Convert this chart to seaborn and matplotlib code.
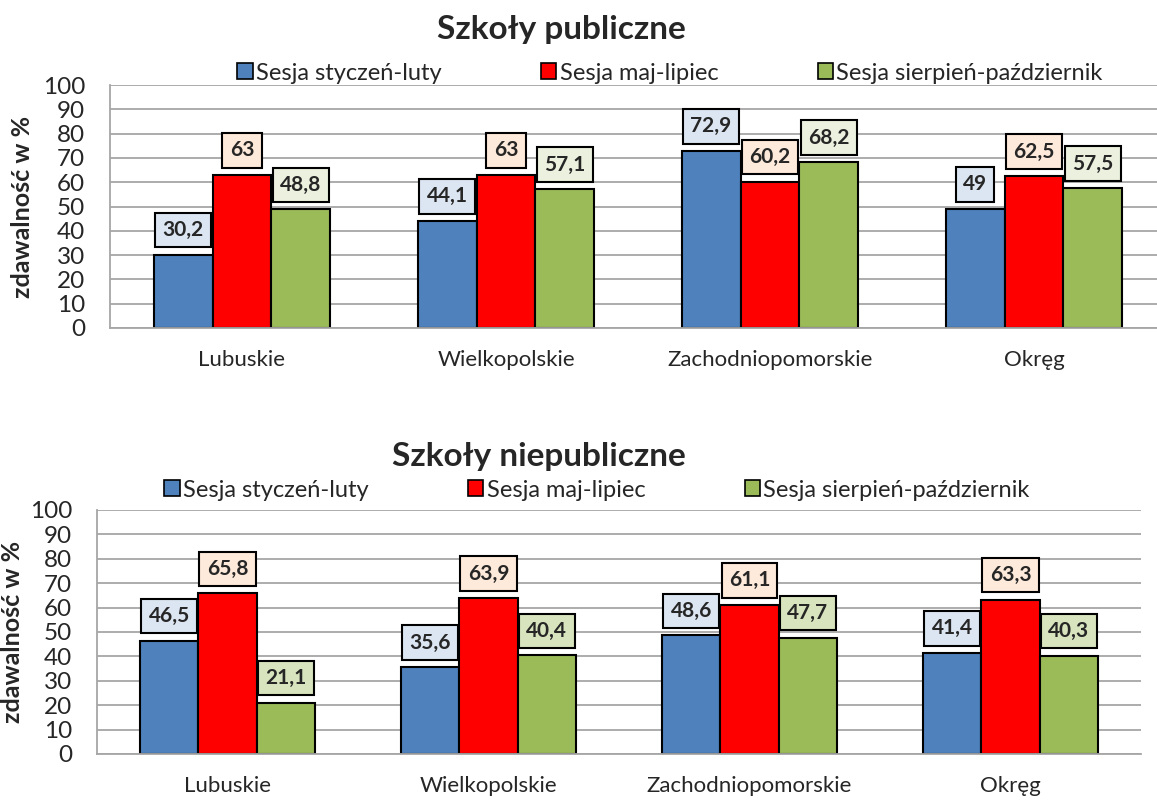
import pandas as pd
import numpy as np
import seaborn as sns
import matplotlib.pyplot as plt
from matplotlib.patches import Patch

regions = ['Lubuskie', 'Wielkopolskie', 'Zachodniopomorskie', 'Okręg']
sessions = ['Sesja styczeń-luty', 'Sesja maj-lipiec', 'Sesja sierpień-październik']

# szkoly publiczne
public_jan_feb = [30.2, 44.1, 72.9, 49]
public_may_jul = [63, 63, 60.2, 62.5]
public_aug_oct = [48.8, 57.1, 68.2, 57.5]

# szkoly niepubliczne
private_jan_feb = [46.5, 35.6, 48.6, 41.4]
private_may_jul = [65.8, 63.9, 61.1, 63.3]
private_aug_oct = [21.1, 40.4, 47.7, 40.3]

bar_colors = ['#4f81bd', '#ff0000', '#9bbb59']
label_colors_public = ['#dce6f2', '#fdeada', '#ebf1de']
label_colors_private = ['#dce6f2', '#fdeada', '#d7e4bd']

grid_color = '#a6a6a6'


def main():
    sns.set_style('white')
    plt.rcParams['font.family'] = ['Lato', 'DejaVu Sans']

    fig = plt.figure(figsize=(11.57, 8.01), dpi=100)

    draw_panel(fig, [110 / 1157, 1 - 328 / 801, 1056 / 1157, 243 / 801],
               to_long(public_jan_feb, public_may_jul, public_aug_oct),
               'Szkoły publiczne', (561 / 1157, 1 - 29 / 801),
               (670 / 1157, 1 - 73 / 801), label_colors_public, 23 / 1157)
    draw_panel(fig, [97 / 1157, 1 - 754 / 801, 1044 / 1157, 244 / 801],
               to_long(private_jan_feb, private_may_jul, private_aug_oct),
               'Szkoły niepubliczne', (539 / 1157, 1 - 457 / 801),
               (597 / 1157, 1 - 490 / 801), label_colors_private, 13 / 1157)

    fig.savefig('out.png', dpi=100)


def to_long(a, b, c):
    rows = []
    for sesja, values in zip(sessions, [a, b, c]):
        for region, v in zip(regions, values):
            rows.append({'Region': region, 'Sesja': sesja, 'Value': v})
    return pd.DataFrame(rows)


def draw_panel(fig, rect, df, title, title_xy, legend_xy, label_colors, ylabel_x):
    ax = fig.add_axes(rect)
    sns.barplot(data=df, x='Region', y='Value', hue='Sesja', order=regions,
                hue_order=sessions, palette=bar_colors, saturation=1,
                width=0.67, edgecolor='black', linewidth=1.5,
                errorbar=None, legend=False, ax=ax)

    for cont, fc in zip(ax.containers, label_colors):
        labels = [f'{v:g}'.replace('.', ',') for v in cont.datavalues]
        ax.bar_label(cont, labels=labels, padding=10.5, fontsize=15,
                     fontweight='bold',
                     bbox=dict(boxstyle='square,pad=0.35', facecolor=fc,
                               edgecolor='black', linewidth=1.5))

    ax.set_ylim(0, 100)
    ax.set_yticks(range(0, 101, 10))
    ax.set_xlim(-0.5, 3.5)
    ax.set_xlabel('')
    ax.set_ylabel('')
    ax.set_axisbelow(True)
    ax.yaxis.grid(True, color=grid_color, lw=1.3)
    ax.xaxis.grid(False)
    for s in ['top', 'right']:
        ax.spines[s].set_visible(False)
    for s in ['left', 'bottom']:
        ax.spines[s].set_color(grid_color)
        ax.spines[s].set_linewidth(1.3)

    ax.tick_params(axis='y', length=9, width=1.3, color=grid_color, pad=9,
                   labelsize=17.5)
    ax.tick_params(axis='x', which='major', length=0, pad=16, labelsize=16)
    ax.set_xticks(np.arange(-0.5, 4, 1), minor=True)
    ax.tick_params(axis='x', which='minor', length=8, width=1.3,
                   color=grid_color)

    fig.text(ylabel_x, rect[1] + rect[3] / 2, 'zdawalność w %', rotation=90,
             ha='center', va='center', fontsize=18, fontweight='bold')
    fig.text(title_xy[0], title_xy[1], title, ha='center', va='center',
             fontsize=24, fontweight='bold')

    handles = [Patch(facecolor=c, edgecolor='black', lw=1.2) for c in bar_colors]
    fig.legend(handles=handles, labels=sessions, loc='center',
               bbox_to_anchor=legend_xy, ncol=3, frameon=False, fontsize=17,
               handlelength=0.65, handleheight=0.65, handletextpad=0.15,
               columnspacing=4.2, borderpad=0)
    return ax


if __name__ == "__main__":
    main()
